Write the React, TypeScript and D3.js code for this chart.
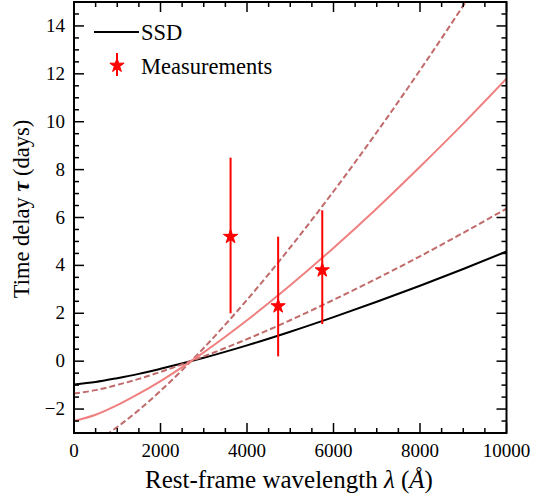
import React from "react";
import * as d3 from "d3";

// wavelength grid (Å) for the model curves
const lambdas = [0, 500, 1000, 1500, 2000, 3000, 4000, 5000, 6000, 7000, 8000, 9000, 10000];
// SSD model (black)
const ssd = [-0.97, -0.87, -0.71, -0.53, -0.32, 0.14, 0.66, 1.23, 1.84, 2.48, 3.15, 3.85, 4.58];
// best fit (pink solid)
const fit = [-2.5, -2.24, -1.84, -1.36, -0.83, 0.37, 1.71, 3.17, 4.73, 6.38, 8.12, 9.92, 11.8];
// fit lower bound (dashed)
const fitLow = [-1.35, -1.21, -0.99, -0.74, -0.45, 0.2, 0.92, 1.71, 2.56, 3.45, 4.38, 5.36, 6.37];
// fit upper bound (dashed)
const fitHigh = [-3.75, -3.35, -2.75, -2.04, -1.24, 0.55, 2.56, 4.75, 7.09, 9.56, 12.15, 14.85, 17.66];

// measurements
const measLambda = [3620, 4720, 5740];
const measTau = [5.2, 2.3, 3.8];
const measErrLow = [3.2, 2.1, 2.25];
const measErrHigh = [3.3, 2.9, 2.5];

const xMajor = [0, 2000, 4000, 6000, 8000, 10000];
const yMajor = [-2, 0, 2, 4, 6, 8, 10, 12, 14];

const W = 548;
const H = 499;
const X0 = 74;
const X1 = 506.5;
const Y0 = 433;
const Y1 = 2;

const FONT = "'Times New Roman', 'Liberation Serif', Times, 'DejaVu Serif', serif";

function starPath(cx: number, cy: number, R: number) {
  const r = R * 0.381966;
  const pts: [number, number][] = [];
  for (let i = 0; i < 10; i++) {
    const a = -Math.PI / 2 + (i * Math.PI) / 5;
    const rad = i % 2 === 0 ? R : r;
    pts.push([cx + rad * Math.cos(a), cy + rad * Math.sin(a)]);
  }
  return d3.line()(pts) + "Z";
}

export default function App() {
  const x = d3.scaleLinear().domain([0, 10000]).range([X0, X1]);
  const y = d3.scaleLinear().domain([-3, 15]).range([Y0, Y1]);

  const line = (vals: number[]) =>
    d3
      .line<number>()
      .x((_, i) => x(lambdas[i]))
      .y((v) => y(v))
      .curve(d3.curveMonotoneX)(vals) || "";

  const xMinor = d3.range(0, 10001, 500).filter((v) => v % 2000 !== 0);
  const yMinor = d3.range(-3, 15.01, 0.5).filter((v) => Math.abs(v % 2) > 1e-9);

  const tickLen = 10;
  const minorLen = 5;

  return (
    <svg
      width={W}
      height={H}
      style={{ position: "absolute", left: 0, top: 0, background: "#fff", fontFamily: FONT }}
    >
      <defs>
        <clipPath id="plot">
          <rect x={X0} y={Y1} width={X1 - X0} height={Y0 - Y1} />
        </clipPath>
      </defs>
      <rect x={0} y={0} width={W} height={H} fill="#fff" />

      <g clipPath="url(#plot)" fill="none">
        <path d={line(ssd)} stroke="#000" strokeWidth={2} />
        <path d={line(fitLow)} stroke="#c06a6a" strokeWidth={2} strokeDasharray="6,3" />
        <path d={line(fitHigh)} stroke="#c06a6a" strokeWidth={2} strokeDasharray="6,3" />
        <path d={line(fit)} stroke="#f08080" strokeWidth={2} />
      </g>

      {/* measurements */}
      <g>
        {measLambda.map((l, i) => (
          <g key={i}>
            <line
              x1={x(l)}
              x2={x(l)}
              y1={y(measTau[i] - measErrLow[i])}
              y2={y(measTau[i] + measErrHigh[i])}
              stroke="#ff0000"
              strokeWidth={2}
            />
            <path d={starPath(x(l), y(measTau[i]), 7.5)} fill="#ff0000" stroke="#ff0000" strokeWidth={1} />
          </g>
        ))}
      </g>

      {/* frame */}
      <rect x={X0} y={Y1} width={X1 - X0} height={Y0 - Y1} fill="none" stroke="#000" strokeWidth={2} />

      {/* ticks */}
      <g stroke="#000" strokeWidth={1.5}>
        {xMajor.map((v) => (
          <g key={"xm" + v}>
            <line x1={x(v)} x2={x(v)} y1={Y0} y2={Y0 - tickLen} />
            <line x1={x(v)} x2={x(v)} y1={Y1} y2={Y1 + tickLen} />
          </g>
        ))}
        {xMinor.map((v) => (
          <g key={"xn" + v}>
            <line x1={x(v)} x2={x(v)} y1={Y0} y2={Y0 - minorLen} />
            <line x1={x(v)} x2={x(v)} y1={Y1} y2={Y1 + minorLen} />
          </g>
        ))}
        {yMajor.map((v) => (
          <g key={"ym" + v}>
            <line x1={X0} x2={X0 + tickLen} y1={y(v)} y2={y(v)} />
            <line x1={X1} x2={X1 - tickLen} y1={y(v)} y2={y(v)} />
          </g>
        ))}
        {yMinor.map((v) => (
          <g key={"yn" + v}>
            <line x1={X0} x2={X0 + minorLen} y1={y(v)} y2={y(v)} />
            <line x1={X1} x2={X1 - minorLen} y1={y(v)} y2={y(v)} />
          </g>
        ))}
      </g>

      {/* tick labels */}
      <g fontSize={19} fill="#000">
        {xMajor.map((v) => (
          <text key={"xl" + v} x={x(v)} y={Y0 + 24} textAnchor="middle">
            {v}
          </text>
        ))}
        {yMajor.map((v) => (
          <text key={"yl" + v} x={X0 - 9} y={y(v) + 6} textAnchor="end">
            {v < 0 ? "\u2212" + Math.abs(v) : v}
          </text>
        ))}
      </g>

      {/* axis titles */}
      <text x={289} y={488} textAnchor="middle" fontSize={25} fill="#000">
        Rest-frame wavelength <tspan fontStyle="italic">λ</tspan> (<tspan fontStyle="italic">Å</tspan>)
      </text>
      <text
        transform={`translate(29, 209) rotate(-90)`}
        textAnchor="middle"
        fontSize={22.5}
        fill="#000"
      >
        Time delay <tspan fontStyle="italic" fontWeight="bold">τ</tspan> (days)
      </text>

      {/* legend */}
      <g>
        <line x1={94} x2={139} y1={32} y2={32} stroke="#000" strokeWidth={2} />
        <text x={141} y={39.5} fontSize={22.5} fill="#000">
          SSD
        </text>
        <line x1={117} x2={117} y1={53} y2={76} stroke="#ff0000" strokeWidth={2} />
        <path d={starPath(117, 65.5, 7.5)} fill="#ff0000" stroke="#ff0000" strokeWidth={1} />
        <text x={141} y={74} fontSize={22.5} fill="#000">
          Measurements
        </text>
      </g>
    </svg>
  );
}
